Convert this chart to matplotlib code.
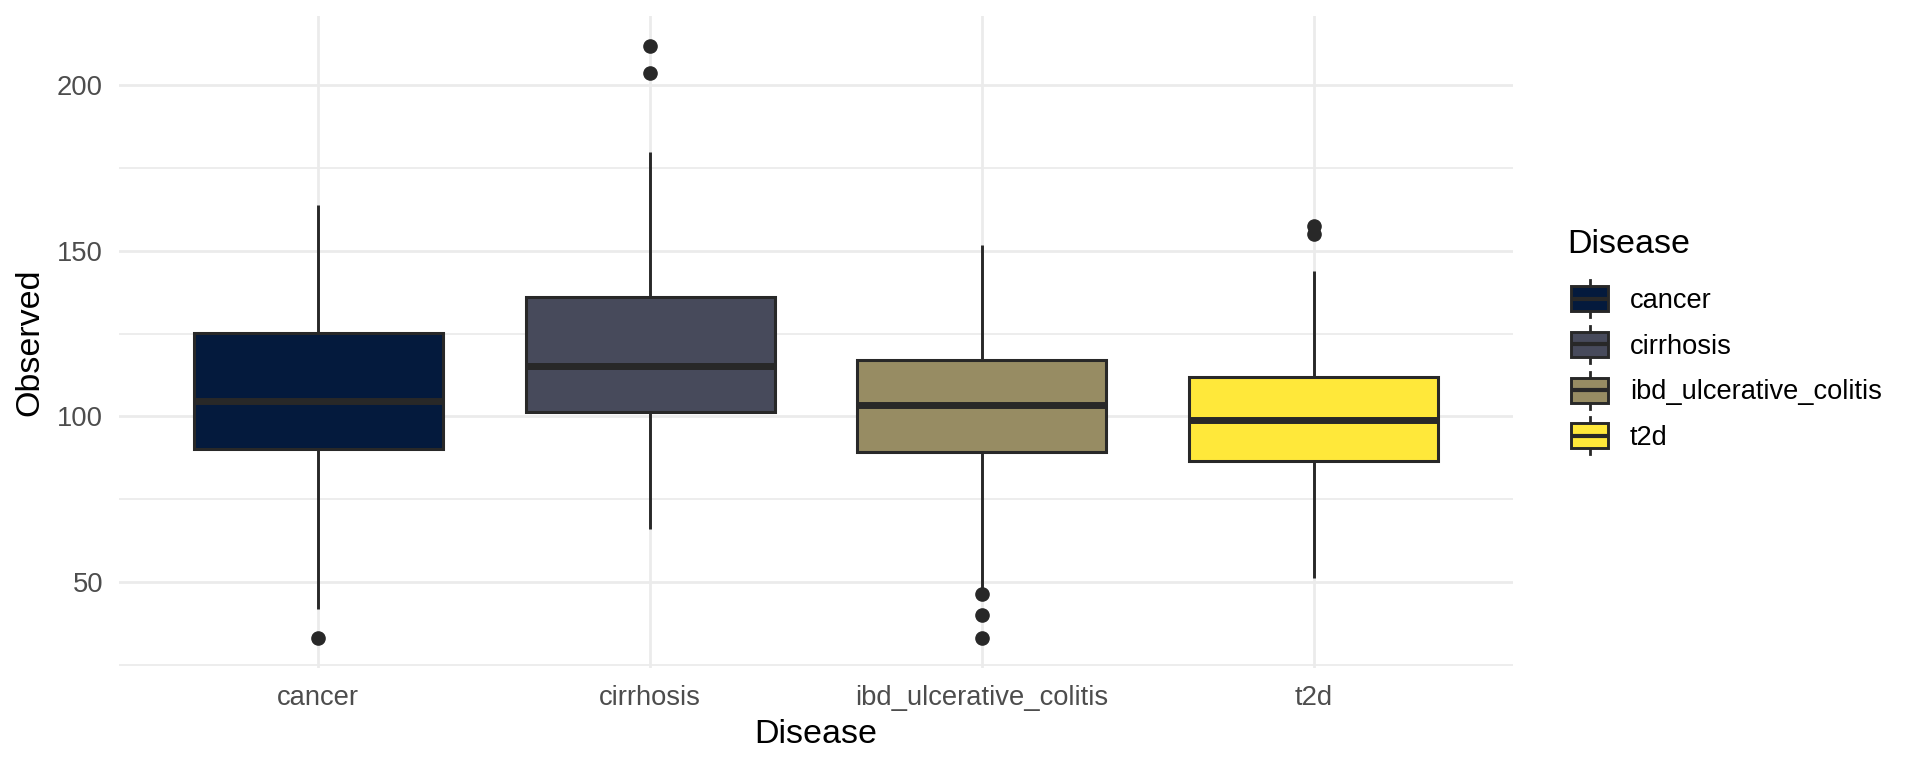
import matplotlib
matplotlib.use("Agg")
import matplotlib.pyplot as plt
from matplotlib.patches import Rectangle, Patch
from matplotlib.lines import Line2D
from matplotlib.legend_handler import HandlerBase

# ---- data ----
categories = ["cancer", "cirrhosis", "ibd_ulcerative_colitis", "t2d"]
q1_vals = [90.0, 101.4, 89.3, 86.6]
median_vals = [104.7, 115.3, 103.3, 98.9]
q3_vals = [125.3, 136.1, 117.0, 112.0]
whisker_low = [41.8, 65.9, 48.0, 51.1]
whisker_high = [163.9, 179.9, 151.8, 144.0]
outliers = [[32.9], [211.8, 203.7], [46.2, 40.1, 33.1], [157.4, 155.1]]
fill_colors = ["#041A3D", "#474A5B", "#978C63", "#FFE83A"]
y_major_ticks = [50, 100, 150, 200]
y_minor_ticks = [25, 75, 125, 175]
x_title = "Disease"
y_title = "Observed"
legend_title = "Disease"

EDGE = "#282828"
GRID = "#EBEBEB"
TICK_COLOR = "#4D4D4D"

plt.rcParams['font.family'] = ['Liberation Sans', 'DejaVu Sans']

fig = plt.figure(figsize=(19.2, 7.68), dpi=100)
fig.patch.set_facecolor("white")
ax = fig.add_axes([0.0620, 0.1302, 0.788 - 0.0620, 0.9788 - 0.1302])

stats = []
for c, a, m, b, lo, hi, fl in zip(categories, q1_vals, median_vals, q3_vals,
                                   whisker_low, whisker_high, outliers):
    stats.append(dict(label=c, q1=a, med=m, q3=b, whislo=lo, whishi=hi, fliers=fl))

positions = list(range(1, len(categories) + 1))
bp = ax.bxp(stats, positions=positions, widths=0.75, patch_artist=True,
            showcaps=False,
            boxprops=dict(edgecolor=EDGE, linewidth=2.2),
            whiskerprops=dict(color=EDGE, linewidth=2.1, solid_capstyle='butt'),
            medianprops=dict(color=EDGE, linewidth=5.0, solid_capstyle='butt'),
            flierprops=dict(marker='o', markerfacecolor=EDGE, markeredgecolor=EDGE,
                            markersize=9.5, linestyle='none'))
for patch, col in zip(bp['boxes'], fill_colors):
    patch.set_facecolor(col)

ax.set_xlim(0.4, len(categories) + 0.6)
ax.set_ylim(23.95, 220.85)
ax.set_xticks(positions)
ax.set_xticklabels(categories)
ax.set_yticks(y_major_ticks)
ax.set_yticks(y_minor_ticks, minor=True)

ax.set_axisbelow(True)
ax.grid(which='major', color=GRID, linewidth=2.0)
ax.grid(which='minor', axis='y', color=GRID, linewidth=1.25)
for s in ax.spines.values():
    s.set_visible(False)
ax.tick_params(which='both', length=0)
ax.tick_params(axis='y', labelsize=19.7, labelcolor=TICK_COLOR, pad=11.5)
ax.tick_params(axis='x', labelsize=19.7, labelcolor=TICK_COLOR, pad=12.2)

ax.set_xlabel(x_title, fontsize=24.5, color='black', labelpad=5.5)
ax.set_ylabel(y_title, fontsize=24.5, color='black', labelpad=8.5)


class BoxKeyHandler(HandlerBase):
    # key sizes in points
    BOX_W = 26.6
    BOX_H = 18.0
    WHISK_H = 26.6

    def create_artists(self, legend, orig_handle, xdescent, ydescent,
                       width, height, fontsize, trans):
        fc = orig_handle.get_facecolor()
        cx = -xdescent + width / 2
        cy = -ydescent + height / 2
        bw, bh, wh = self.BOX_W, self.BOX_H, self.WHISK_H
        box = Rectangle((cx - bw / 2, cy - bh / 2), bw, bh, facecolor=fc,
                        edgecolor=EDGE, linewidth=2.1, transform=trans)
        w1 = Line2D([cx, cx], [cy - wh / 2, cy - bh / 2], color=EDGE,
                    linewidth=2.0, transform=trans)
        w2 = Line2D([cx, cx], [cy + bh / 2, cy + wh / 2], color=EDGE,
                    linewidth=2.0, transform=trans)
        med = Line2D([cx - bw / 2, cx + bw / 2], [cy, cy], color=EDGE,
                     linewidth=3.0, solid_capstyle='butt', transform=trans)
        return [w1, w2, box, med]


handles = [Patch(facecolor=c, edgecolor=EDGE) for c in fill_colors]
leg = fig.legend(handles, categories, title=legend_title,
                 handler_map={Patch: BoxKeyHandler()},
                 loc='upper left', bbox_to_anchor=(0.8161, 0.7015),
                 frameon=False, fontsize=19.6, title_fontsize=24.5,
                 handlelength=1.69, handleheight=1.26, labelspacing=0.59,
                 handletextpad=0.63, borderpad=0, borderaxespad=0,
                 alignment='left')
# extra gap between legend title and its entries
leg._legend_box.sep = 0.59 * 19.6 + 5.7

fig.savefig("out.png", dpi=100, facecolor="white")
